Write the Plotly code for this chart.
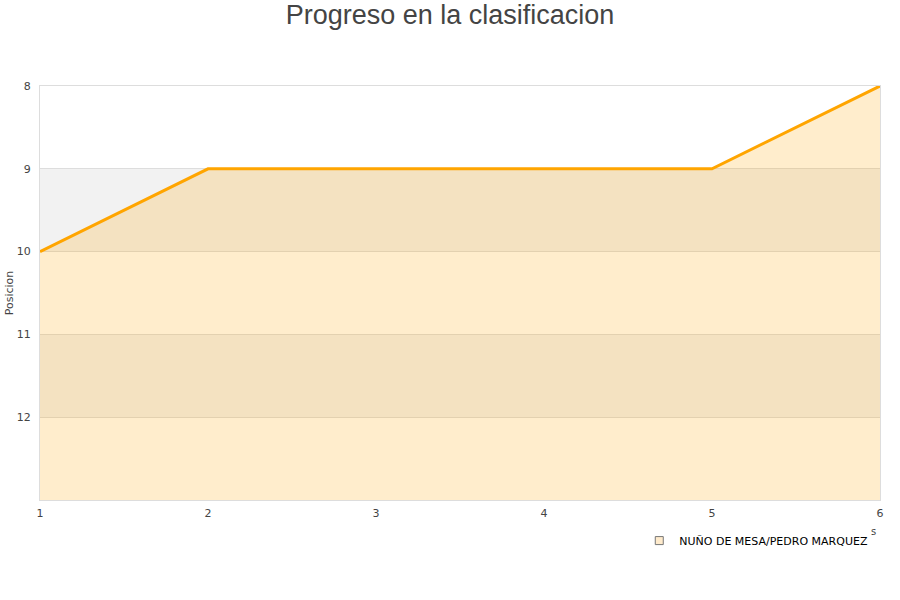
import plotly.graph_objects as go

jornadas = [1, 2, 3, 4, 5, 6]
posicion = [10, 9, 9, 9, 9, 8]
pareja = "NUÑO DE MESA/PEDRO MARQUEZ"
ytick_vals = [8, 9, 10, 11, 12]
fondo = 13

naranja = "#FFA500"
relleno = "rgba(255,165,0,0.2)"

fig = go.Figure()

# base invisible para rellenar hasta el fondo
fig.add_trace(go.Scatter(x=jornadas, y=[fondo] * len(jornadas), mode="lines",
                         line=dict(width=0), showlegend=False, hoverinfo="skip"))
fig.add_trace(go.Scatter(x=jornadas, y=posicion, mode="lines", fill="tonexty",
                         fillcolor=relleno, line=dict(color=naranja, width=3),
                         showlegend=False, name=pareja))
# entrada de leyenda
fig.add_trace(go.Scatter(x=[None], y=[None], mode="markers", name=pareja,
                         marker=dict(symbol="square", size=8, color="#FFEBCC",
                                     line=dict(color="#777", width=1))))

# bandas alternas
for y0 in [9, 11]:
    fig.add_shape(type="rect", xref="paper", x0=0, x1=1, yref="y", y0=y0, y1=y0 + 1,
                  fillcolor="#F2F2F2", line=dict(width=0), layer="below")

fig.update_layout(
    width=900, height=600,
    paper_bgcolor="white", plot_bgcolor="white",
    margin=dict(l=40, r=20, t=86, b=100, autoexpand=False),
    title=dict(text="Progreso en la clasificacion", x=0.5, xanchor="center",
               y=0.975, yanchor="middle", yref="container",
               font=dict(family="Liberation Sans, Arial", size=27, color="#444")),
    font=dict(family="DejaVu Sans", size=11, color="#444"),
    legend=dict(x=0.992, xanchor="right", y=-0.063, yanchor="top", bgcolor="rgba(0,0,0,0)",
                font=dict(size=11, color="#000"), itemwidth=30),
    showlegend=True,
)
fig.update_xaxes(range=[1, 6], tickvals=jornadas, showgrid=False, zeroline=False,
                 showline=True, linecolor="#DDD", mirror=True, ticks="", automargin=False,
                 ticklabelstandoff=3, tickfont=dict(size=11, color="#444"))
fig.update_yaxes(range=[fondo, 8], tickvals=ytick_vals, showgrid=True, gridcolor="#DDD",
                 zeroline=False, showline=True, linecolor="#DDD", mirror=True, ticks="",
                 ticklabelstandoff=6, automargin=False,
                 title=dict(text="Posicion", font=dict(size=11, color="#444"), standoff=0),
                 tickfont=dict(size=11, color="#444"))

fig.add_annotation(text="s", xref="paper", yref="paper", x=0.998, y=-0.094,
                   showarrow=False, font=dict(size=10, color="#444"))

fig.write_html("out.html", config={"displayModeBar": False},
               post_script="document.body.style.margin='0px';")
